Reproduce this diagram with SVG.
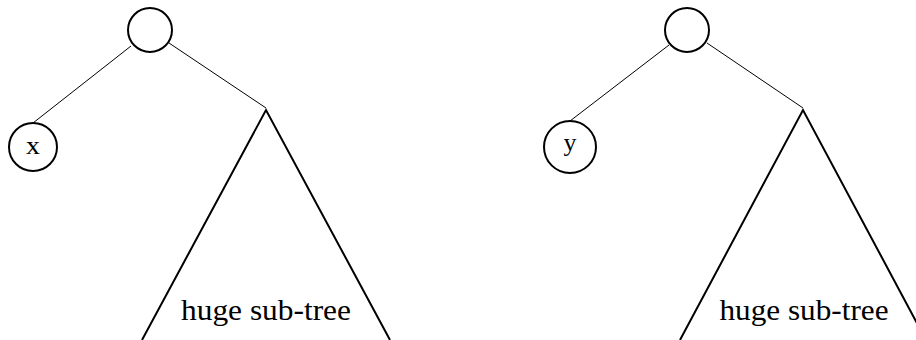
<svg xmlns="http://www.w3.org/2000/svg" width="916" height="340" viewBox="0 0 916 340">
<style>
.node{fill:#fff;stroke:#000;stroke-width:2}
.edge{stroke:#000;stroke-width:1;fill:none}
.tri{stroke:#000;stroke-width:2;fill:none}
.lbl{font-family:"Liberation Serif",serif;font-size:26px;fill:#000;text-anchor:middle}
.sub{font-family:"Liberation Serif",serif;font-size:29px;fill:#000;text-anchor:middle}
</style>
<rect width="916" height="340" fill="#fff"/>
<g id="connectors">
<line class="edge" x1="131" y1="46" x2="33" y2="123"/>
<line class="edge" x1="169" y1="43" x2="266" y2="108"/>
<line class="edge" x1="669" y1="45" x2="570" y2="121"/>
<line class="edge" x1="707" y1="43" x2="803" y2="108"/>
</g>
<g id="root-left"><circle class="node" cx="150" cy="30" r="22"/></g>
<g id="node-x"><circle class="node" cx="33" cy="147" r="24"/><text class="lbl" x="33" y="154" textLength="14" lengthAdjust="spacingAndGlyphs">x</text></g>
<g id="subtree-left">
<polyline class="tri" points="142,340 266,110 390,340"/>
<text class="sub" x="266" y="320" textLength="170" lengthAdjust="spacingAndGlyphs">huge sub-tree</text>
</g>
<g id="root-right"><circle class="node" cx="687" cy="30" r="22"/></g>
<g id="node-y"><circle class="node" cx="570" cy="147" r="26"/><text class="lbl" x="570" y="151">y</text></g>
<g id="subtree-right">
<polyline class="tri" points="680,340 803,110 926,340"/>
<text class="sub" x="804" y="320" textLength="169" lengthAdjust="spacingAndGlyphs">huge sub-tree</text>
</g>
</svg>
